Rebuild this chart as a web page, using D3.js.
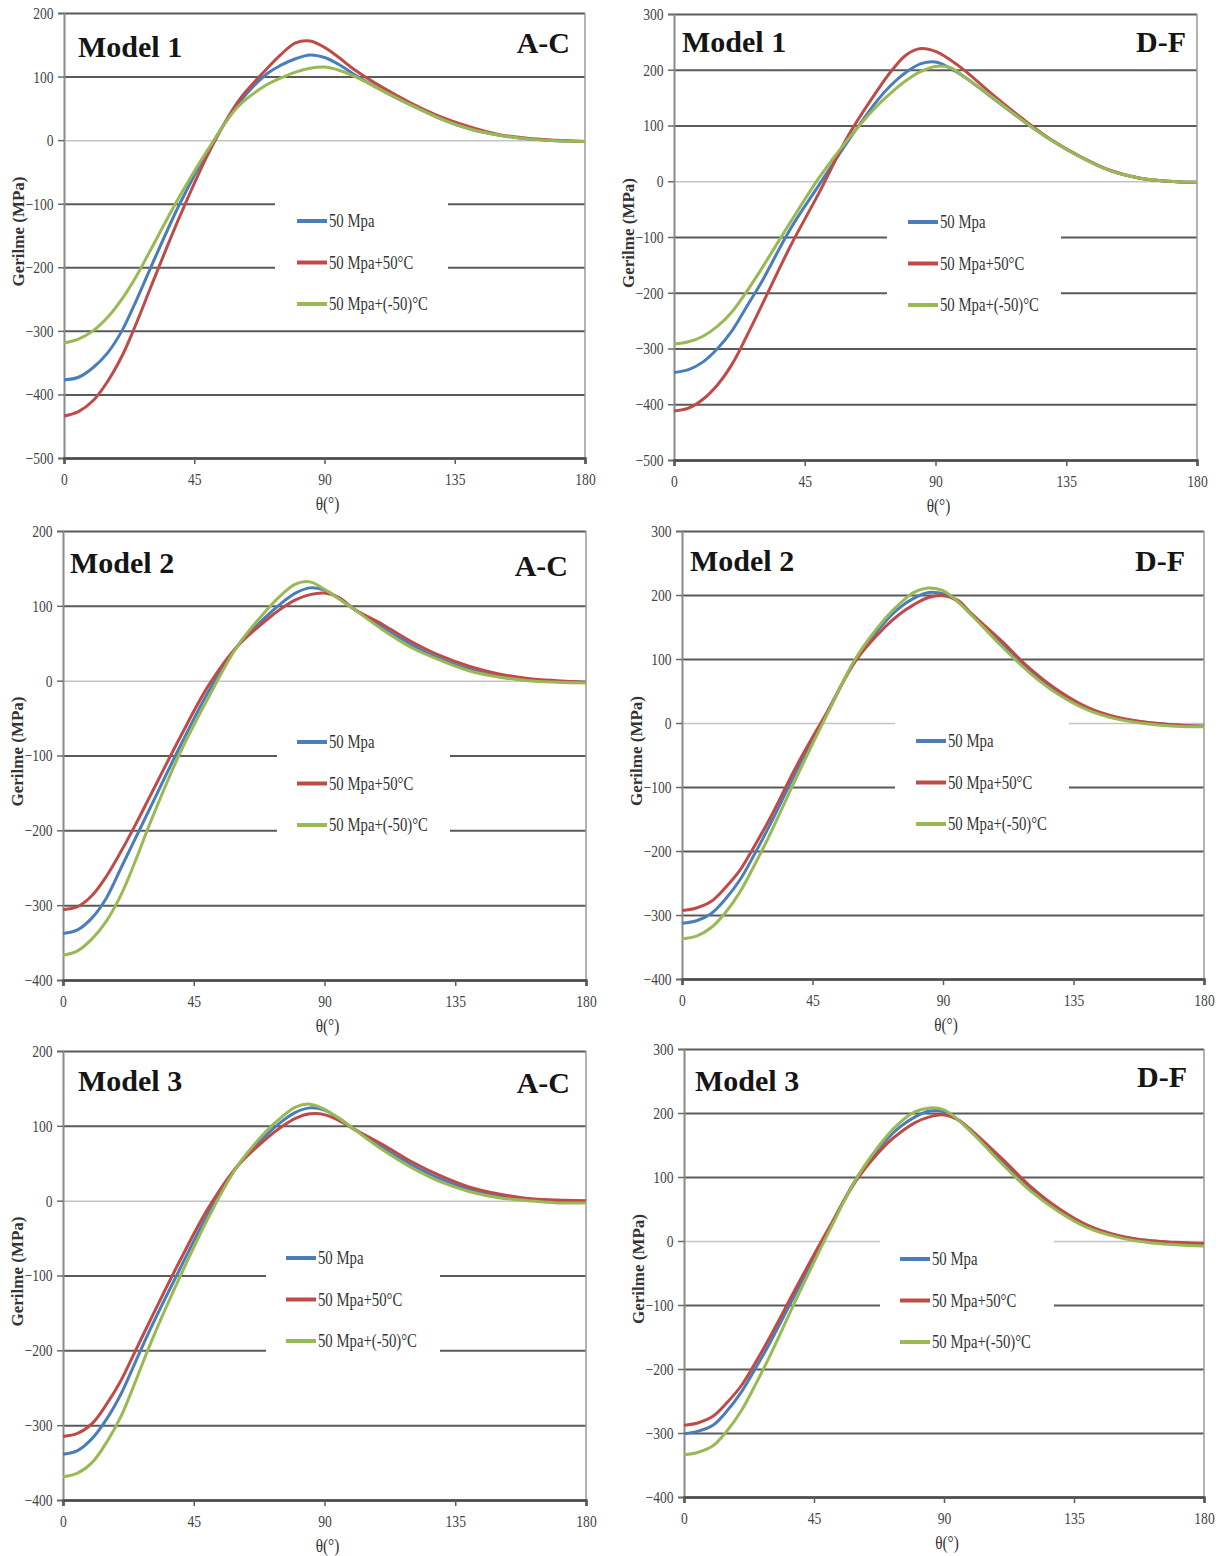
<!DOCTYPE html>
<meta charset="utf-8">
<style>
body { margin: 0; background: #fff; }
svg { display: block; }
.axis text { font-family: "Liberation Serif", "Times New Roman", serif; font-size: 17px; fill: #444; }
.legend text { font-family: "Liberation Serif", "Times New Roman", serif; font-size: 18px; fill: #333; }
.title { font-family: "Liberation Serif", "Times New Roman", serif; font-size: 30px; font-weight: bold; fill: #151515; }
.ylabel { font-family: "Liberation Serif", "Times New Roman", serif; font-size: 17px; font-weight: bold; fill: #333; }
.xlabel { font-family: "Liberation Serif", "Times New Roman", serif; font-size: 18px; fill: #333; }
</style>
<svg width="1218" height="1556"></svg>
<script src="https://cdn.jsdelivr.net/npm/d3@7"></script>
<script>

// theta (deg), denser near the start and the peak
var angles = [0, 5, 10, 15, 20, 25, 30, 40, 50, 60, 70, 75, 80, 85, 90, 95, 100, 110, 120, 130, 140, 150, 160, 170, 180];
var xTicks = [0, 45, 90, 135, 180];

var seriesNames  = ["50 Mpa", "50 Mpa+50\u00B0C", "50 Mpa+(-50)\u00B0C"];
var seriesColors = ["#4a7ebb", "#be4b48", "#98b954"];

// Model 1, A-C
var m1acBase = [-377, -373, -358, -335, -300, -252, -200, -100, -15, 56, 104, 118, 128, 134, 130, 119, 104, 78, 55, 34, 18, 8, 2, -1, -2];
var m1acHot  = [-434, -427, -410, -380, -340, -288, -231, -120, -20, 60, 112, 135, 153, 156, 146, 130, 112, 83, 58, 37, 21, 9, 3, 0, -2];
var m1acCold = [-319, -313, -300, -279, -250, -214, -172, -88, -13, 52, 87, 98, 107, 113, 115, 110, 101, 78, 55, 34, 18, 8, 2, -1, -2];
// Model 1, D-F
var m1dfBase = [-343, -338, -324, -300, -268, -225, -182, -86, -6, 73, 145, 174, 196, 211, 214, 203, 187, 148, 109, 73, 43, 19, 6, 0, -2];
var m1dfHot  = [-412, -407, -391, -365, -328, -278, -225, -117, -20, 82, 163, 199, 227, 238, 233, 218, 199, 154, 112, 74, 44, 20, 6, 0, -2];
var m1dfCold = [-292, -288, -278, -260, -234, -198, -158, -74, 7, 76, 136, 160, 181, 197, 206, 204, 187, 149, 109, 73, 43, 19, 6, 0, -2];
// Model 2, A-C
var m2acBase = [-338, -333, -317, -290, -250, -210, -170, -90, -15, 46, 86, 103, 117, 124, 121, 110, 96, 71, 48, 29, 15, 6, 1, -1, -2];
var m2acHot  = [-306, -302, -287, -261, -228, -192, -154, -78, -7, 46, 81, 96, 108, 115, 117, 111, 96, 75, 52, 33, 19, 9, 3, 0, -2];
var m2acCold = [-367, -361, -345, -321, -286, -240, -190, -99, -23, 46, 94, 114, 129, 132, 122, 109, 96, 68, 44, 27, 13, 5, 0, -2, -3];
// Model 2, D-F
var m2dfBase = [-313, -309, -298, -275, -245, -205, -162, -70, 15, 100, 158, 180, 195, 204, 202, 190, 168, 124, 81, 47, 22, 8, 1, -3, -5];
var m2dfHot  = [-293, -289, -279, -257, -230, -192, -152, -63, 17, 98, 150, 170, 185, 196, 199, 192, 170, 129, 85, 50, 24, 9, 1, -3, -5];
var m2dfCold = [-337, -333, -320, -296, -264, -222, -177, -80, 13, 102, 163, 186, 204, 211, 207, 190, 168, 121, 78, 44, 20, 6, -1, -5, -6];
// Model 3, A-C
var m3acBase = [-339, -334, -318, -292, -258, -215, -172, -93, -17, 46, 88, 105, 118, 124, 121, 110, 96, 71, 48, 29, 15, 7, 2, -1, -2];
var m3acHot  = [-315, -311, -298, -272, -240, -200, -160, -82, -10, 46, 83, 98, 110, 116, 115, 107, 96, 75, 52, 33, 18, 9, 3, 1, 0];
var m3acCold = [-369, -364, -350, -323, -288, -241, -192, -104, -23, 46, 93, 111, 125, 129, 122, 110, 96, 68, 44, 25, 12, 4, 0, -3, -3];
// Model 3, D-F
var m3dfBase = [-301, -297, -288, -265, -235, -197, -157, -70, 17, 100, 158, 179, 194, 203, 202, 189, 168, 124, 81, 47, 22, 8, 1, -3, -5];
var m3dfHot  = [-288, -284, -274, -252, -225, -188, -148, -63, 19, 97, 151, 170, 185, 194, 197, 189, 171, 129, 85, 50, 24, 9, 1, -2, -4];
var m3dfCold = [-334, -330, -320, -296, -264, -222, -177, -80, 13, 100, 163, 186, 202, 208, 205, 189, 168, 121, 78, 45, 20, 6, -2, -6, -8];

var yTicksAC1 = [-500, -400, -300, -200, -100, 0, 100, 200];
var yTicksDF1 = [-500, -400, -300, -200, -100, 0, 100, 200, 300];
var yTicksAC  = [-400, -300, -200, -100, 0, 100, 200];
var yTicksDF  = [-400, -300, -200, -100, 0, 100, 200, 300];

var panels = [
  {model: "Model 1", side: "A-C", data: [m1acBase, m1acHot, m1acCold], yTicks: yTicksAC1,
   x0: 64, x1: 585, yTop: 13, yBot: 458, tx: 78, ty: 57, sx: 570, sy: 53,
   gap: [275, 448, 186, 324], sw: 297, ly: 221},
  {model: "Model 1", side: "D-F", data: [m1dfBase, m1dfHot, m1dfCold], yTicks: yTicksDF1,
   x0: 674, x1: 1197, yTop: 14, yBot: 460, tx: 682, ty: 52, sx: 1186, sy: 52,
   gap: [887, 1061, 187, 327], sw: 908, ly: 222},
  {model: "Model 2", side: "A-C", data: [m2acBase, m2acHot, m2acCold], yTicks: yTicksAC,
   x0: 63, x1: 586, yTop: 531, yBot: 980, tx: 70, ty: 573, sx: 568, sy: 576,
   gap: [277, 450, 707, 845], sw: 297, ly: 742},
  {model: "Model 2", side: "D-F", data: [m2dfBase, m2dfHot, m2dfCold], yTicks: yTicksDF,
   x0: 682, x1: 1204, yTop: 531, yBot: 979, tx: 690, ty: 571, sx: 1185, sy: 571,
   gap: [895, 1069, 706, 844], sw: 916, ly: 741},
  {model: "Model 3", side: "A-C", data: [m3acBase, m3acHot, m3acCold], yTicks: yTicksAC,
   x0: 63, x1: 586, yTop: 1051, yBot: 1500, tx: 78, ty: 1091, sx: 570, sy: 1093,
   gap: [266, 440, 1223, 1360], sw: 286, ly: 1258},
  {model: "Model 3", side: "D-F", data: [m3dfBase, m3dfHot, m3dfCold], yTicks: yTicksDF,
   x0: 684, x1: 1204, yTop: 1049, yBot: 1497, tx: 695, ty: 1091, sx: 1187, sy: 1087,
   gap: [880, 1054, 1224, 1361], sw: 900, ly: 1259}
];

var svg = d3.select("svg");
svg.append("rect").attr("width", 1218).attr("height", 1556).attr("fill", "#fff");

panels.forEach(function(p) {
  var yExt = d3.extent(p.yTicks);
  var x = d3.scaleLinear().domain([0, 180]).range([p.x0, p.x1]);
  var y = d3.scaleLinear().domain(yExt).range([p.yBot, p.yTop]);
  var g = svg.append("g");

  // gridlines
  var grid = g.append("g")
      .attr("transform", "translate(" + p.x0 + ",0)")
      .call(d3.axisLeft(y).tickValues(p.yTicks).tickSize(-(p.x1 - p.x0)).tickFormat(""));
  grid.select(".domain").remove();
  grid.selectAll("line")
      .attr("stroke", function(d) { return d === 0 ? "#c4c4c4" : "#5a5a5a"; })
      .attr("stroke-width", function(d) { return d === 0 ? 1.5 : 2; });

  // right border
  g.append("line")
      .attr("x1", p.x1).attr("x2", p.x1).attr("y1", p.yTop).attr("y2", p.yBot)
      .attr("stroke", "#9a9a9a").attr("stroke-width", 1.5);

  // legend background (cuts the gridlines)
  g.append("rect")
      .attr("x", p.gap[0]).attr("y", p.gap[2])
      .attr("width", p.gap[1] - p.gap[0]).attr("height", p.gap[3] - p.gap[2])
      .attr("fill", "#fff");

  // left axis
  var ya = g.append("g")
      .attr("class", "axis")
      .attr("transform", "translate(" + p.x0 + ",0)")
      .call(d3.axisLeft(y).tickValues(p.yTicks).tickSize(6).tickPadding(7));
  ya.select(".domain").attr("stroke", "#8a8a8a").attr("stroke-width", 2);
  ya.selectAll("line").attr("stroke", "#6a6a6a").attr("stroke-width", 1.5);
  ya.selectAll("text").attr("transform", "scale(0.8,1)");

  // bottom axis
  var xa = g.append("g")
      .attr("class", "axis")
      .attr("transform", "translate(0," + p.yBot + ")")
      .call(d3.axisBottom(x).tickValues(xTicks).tickSize(6).tickPadding(8));
  xa.select(".domain").attr("stroke", "#4a4a4a").attr("stroke-width", 2.5);
  xa.selectAll("line").attr("stroke", "#5a5a5a").attr("stroke-width", 1.5);
  xa.selectAll("text")
      .attr("transform", "scale(0.8,1)")
      .attr("y", 15).attr("dy", "0.71em");

  // curves
  var line = d3.line()
      .x(function(d, i) { return x(angles[i]); })
      .y(function(d) { return y(d); })
      .curve(d3.curveCatmullRom.alpha(0.5));
  p.data.forEach(function(s, k) {
    g.append("path")
        .datum(s)
        .attr("d", line)
        .attr("fill", "none")
        .attr("stroke", seriesColors[k])
        .attr("stroke-width", 3)
        .attr("stroke-linejoin", "round");
  });

  // legend
  var lg = g.append("g").attr("class", "legend");
  seriesNames.forEach(function(name, k) {
    var ly = p.ly + k * 41.5;
    lg.append("line")
        .attr("x1", p.sw).attr("x2", p.sw + 30).attr("y1", ly).attr("y2", ly)
        .attr("stroke", seriesColors[k]).attr("stroke-width", 4);
    lg.append("text")
        .attr("transform", "translate(" + (p.sw + 32) + "," + (ly + 6) + ") scale(0.82,1)")
        .text(name);
  });

  // titles
  g.append("text").attr("class", "title").attr("x", p.tx).attr("y", p.ty).text(p.model);
  g.append("text").attr("class", "title").attr("x", p.sx).attr("y", p.sy)
      .attr("text-anchor", "end").text(p.side);

  // axis titles
  g.append("text")
      .attr("class", "ylabel")
      .attr("transform", "translate(" + (p.x0 - 40) + "," + ((p.yTop + p.yBot) / 2 - 4) + ") rotate(-90)")
      .attr("text-anchor", "middle")
      .text("Gerilme (MPa)");
  g.append("text")
      .attr("class", "xlabel")
      .attr("transform", "translate(" + (x(90) + 3) + "," + (p.yBot + 52) + ") scale(0.85,1)")
      .attr("text-anchor", "middle")
      .text("\u03B8(\u00B0)");
});

</script>
